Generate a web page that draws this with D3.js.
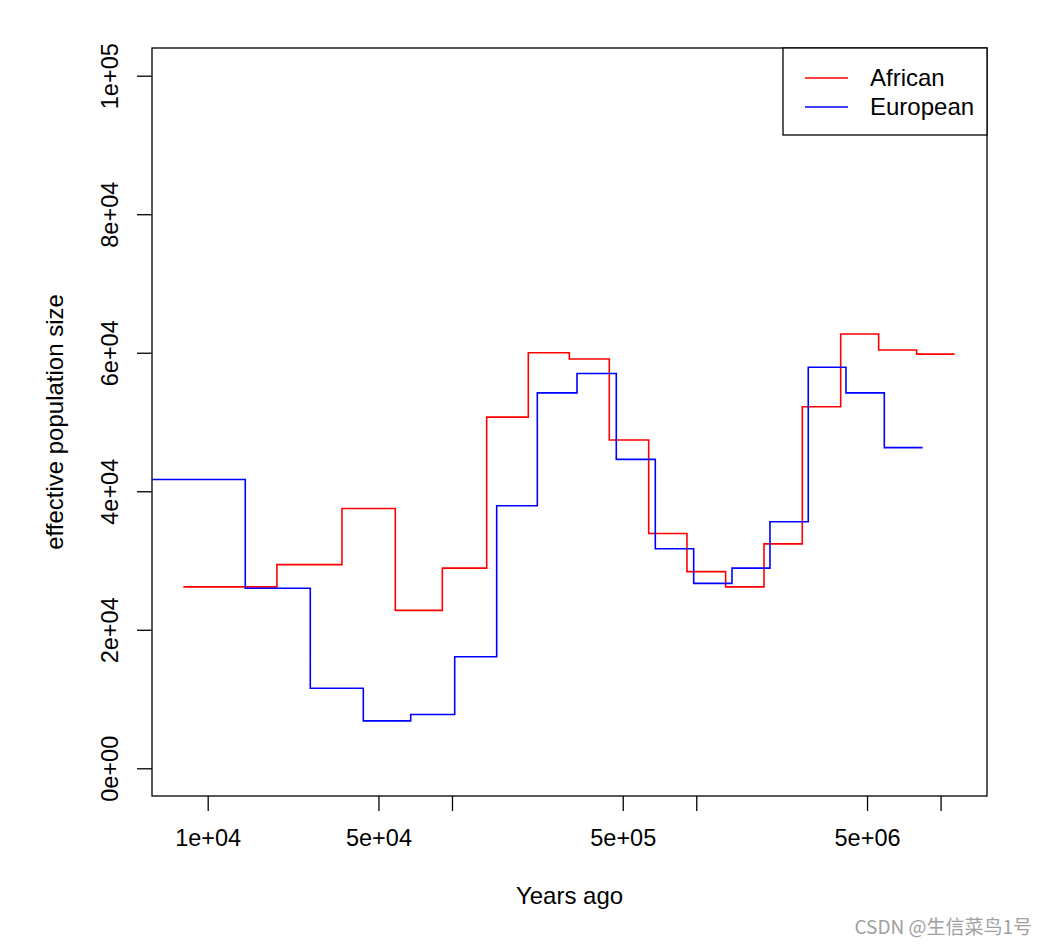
<!DOCTYPE html>
<html>
<head>
<meta charset="utf-8">
<script src="https://cdn.jsdelivr.net/npm/d3@7"></script>
<style>
  body { margin: 0; background: #fff; }
  text { font-family: "Liberation Sans", Arial, Helvetica, sans-serif; }
</style>
</head>
<body>
<svg id="chart" width="1049" height="945"></svg>
<script>
// PSMC step data (years ago, effective population size)
const africanYears = [7950, 19200, 35450, 58600, 91300, 138700, 205300, 302200, 440500, 638600,
                      915900, 1319000, 1893000, 2716000, 3901000, 5580000, 7980000, 11420000];
const africanNe    = [26200, 29400, 37500, 22800, 28900, 50700, 60000, 59100, 47400, 33900,
                      28400, 26200, 32400, 52200, 62700, 60400, 59800];

const europeanYears = [5000, 14250, 26300, 43350, 67750, 102600, 152400, 223500, 324900, 470500,
                       679600, 975900, 1400000, 2003000, 2873000, 4100000, 5884000, 8446000];
const europeanNe    = [41700, 26000, 11560, 6840, 7760, 16100, 37900, 54200, 57000, 44600,
                       31700, 26700, 28900, 35600, 57900, 54200, 46300];

const xTicks = [1e4, 5e4, 1e5, 5e5, 1e6, 5e6, 1e7];
const xTickLabels = ["1e+04", "5e+04", "", "5e+05", "", "5e+06", ""];
const yTicks = [0, 2e4, 4e4, 6e4, 8e4, 1e5];
const yTickLabels = ["0e+00", "2e+04", "4e+04", "6e+04", "8e+04", "1e+05"];

const series = [
    { name: "African", color: "#ff0000", years: africanYears, ne: africanNe },
    { name: "European", color: "#0000ff", years: europeanYears, ne: europeanNe }
];

const svg = d3.select("#chart");
const pLeft = 152, pRight = 987, pTop = 48, pBottom = 796;
const tickFont = "23.5px";
const labFont = "24px";

const x = d3.scaleLog().domain([5916, 1.549e7]).range([pLeft, pRight]);
const y = d3.scaleLinear().domain([-4000, 104000]).range([pBottom, pTop]);

svg.append("defs").append("clipPath").attr("id", "plotclip")
    .append("rect")
    .attr("x", pLeft).attr("y", pTop)
    .attr("width", pRight - pLeft).attr("height", pBottom - pTop);

// step lines: repeat last value so the final step is drawn
const line = d3.line()
    .x(d => x(d[0]))
    .y(d => y(d[1]))
    .curve(d3.curveStepAfter);

series.forEach(s => {
    const pts = s.years.map((t, i) => [t, s.ne[Math.min(i, s.ne.length - 1)]]);
    svg.append("path")
        .datum(pts)
        .attr("clip-path", "url(#plotclip)")
        .attr("fill", "none")
        .attr("stroke", s.color)
        .attr("stroke-width", 1.6)
        .attr("d", line);
});

// x axis
const xAxis = svg.append("g")
    .attr("transform", `translate(0,${pBottom})`)
    .call(d3.axisBottom(x)
        .tickValues(xTicks)
        .tickSize(15)
        .tickPadding(18)
        .tickFormat((d, i) => xTickLabels[i]));
xAxis.select(".domain").remove();
xAxis.selectAll("line").attr("stroke", "#000").attr("stroke-width", 1.3);
xAxis.selectAll("text").attr("fill", "#000").style("font-size", tickFont);

// y axis, labels parallel to the axis like R
const yAxis = svg.append("g")
    .attr("transform", `translate(${pLeft},0)`)
    .call(d3.axisLeft(y)
        .tickValues(yTicks)
        .tickSize(15)
        .tickFormat((d, i) => yTickLabels[i]));
yAxis.select(".domain").remove();
yAxis.selectAll("line").attr("stroke", "#000").attr("stroke-width", 1.3);
yAxis.selectAll("text")
    .attr("transform", "rotate(-90)")
    .attr("x", 0)
    .attr("y", -34)
    .attr("dy", 0)
    .attr("text-anchor", "middle")
    .attr("fill", "#000")
    .style("font-size", tickFont);

// plot box
svg.append("rect")
    .attr("x", pLeft).attr("y", pTop)
    .attr("width", pRight - pLeft).attr("height", pBottom - pTop)
    .attr("fill", "none")
    .attr("stroke", "#000")
    .attr("stroke-width", 1.3);

// axis titles
svg.append("text")
    .attr("x", (pLeft + pRight) / 2)
    .attr("y", 904)
    .attr("text-anchor", "middle")
    .style("font-size", labFont)
    .text("Years ago");

svg.append("text")
    .attr("transform", `translate(63,${(pTop + pBottom) / 2}) rotate(-90)`)
    .attr("text-anchor", "middle")
    .style("font-size", labFont)
    .text("effective population size");

// legend
const legend = svg.append("g");
legend.append("rect")
    .attr("x", 783).attr("y", pTop)
    .attr("width", pRight - 783).attr("height", 87)
    .attr("fill", "#fff")
    .attr("stroke", "#000")
    .attr("stroke-width", 1.3);

series.forEach((s, i) => {
    const ly = 78 + i * 29;
    legend.append("line")
        .attr("x1", 805).attr("x2", 848)
        .attr("y1", ly).attr("y2", ly)
        .attr("stroke", s.color)
        .attr("stroke-width", 1.3);
    legend.append("text")
        .attr("x", 870)
        .attr("y", ly)
        .attr("dy", "0.35em")
        .style("font-size", labFont)
        .text(s.name);
});

// watermark
svg.append("text")
    .attr("x", 1032)
    .attr("y", 934)
    .attr("text-anchor", "end")
    .attr("fill", "#a0a0a0")
    .style("font-family", '"Noto Sans CJK SC", "Noto Sans", sans-serif')
    .style("font-size", "19px")
    .text("CSDN @生信菜鸟1号");
</script>
</body>
</html>
